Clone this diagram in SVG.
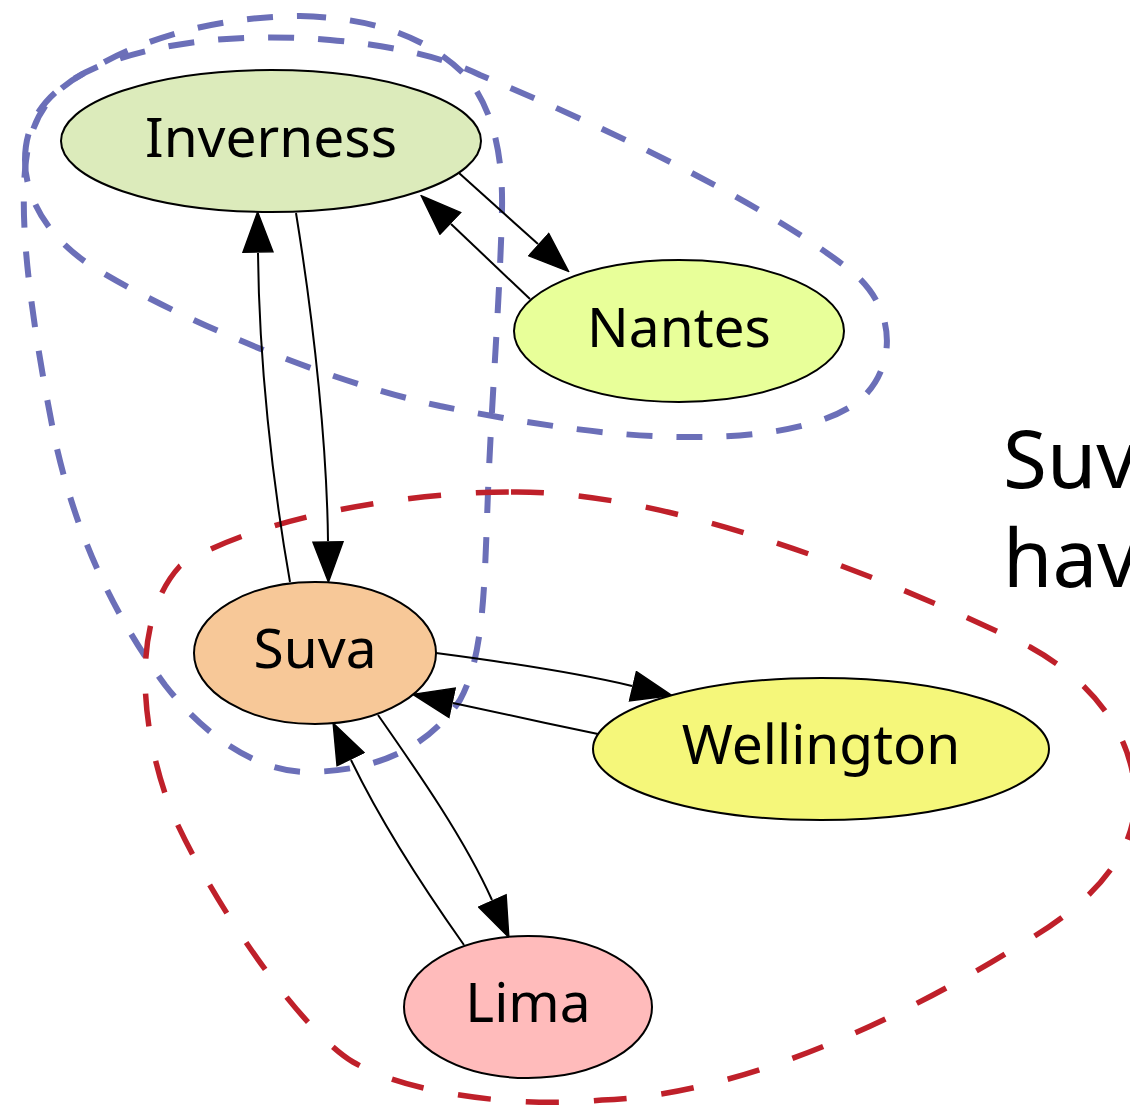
<svg xmlns="http://www.w3.org/2000/svg" width="1130" height="1111" viewBox="0 0 1130 1111">
  <style>
    .cluster { fill: none; stroke-linejoin: round; }
    .blue { stroke: #6b6fb8; stroke-width: 6; stroke-dasharray: 26 24; }
    .red { stroke: #bf202a; stroke-width: 5.5; stroke-dasharray: 33 35; }
    .edge { fill: none; stroke: #000; stroke-width: 2; }
    .node ellipse { stroke: #000; stroke-width: 2; }
    .node text { font-family: "Noto Sans", "Open Sans", sans-serif; font-size: 55px; text-anchor: middle; fill: #000; }
    .note { font-family: "Noto Sans", "Open Sans", sans-serif; font-size: 80px; fill: #000; }
  </style>
  <defs>
    <marker id="arrow" markerWidth="42" markerHeight="32" refX="0" refY="16" orient="auto" markerUnits="userSpaceOnUse">
      <path d="M1,1 L41,16 L1,31 Z" fill="#000" stroke="#000" stroke-width="1.5"/>
    </marker>
  </defs>

  <!-- cluster outlines -->
  <g id="clusters">
    <path id="cluster-inverness-nantes" class="cluster blue" d="M 25,160 C 25,110 60,80 110,62 C 170,40 250,33 330,40 C 400,46 450,60 480,75 C 600,125 760,200 850,270 C 900,310 895,370 860,400 C 820,432 740,438 680,437 C 600,436 510,420 440,406 C 320,380 170,315 90,265 C 45,235 25,195 25,160 Z"/>
    <path id="cluster-inverness-suva" class="cluster blue" d="M 300,16 C 380,18 430,40 465,75 C 495,110 503,160 502,210 C 500,300 490,420 487,520 C 484,600 482,660 460,700 C 430,745 380,772 305,772 C 250,770 200,730 165,685 C 110,610 75,530 55,440 C 35,340 22,250 24,190 C 25,130 40,95 90,70 C 150,35 220,17 300,16 Z"/>
    <path id="cluster-suva-wellington-lima" class="cluster red" d="M 511,492 C 650,490 850,560 1030,647 C 1090,680 1130,730 1135,790 C 1140,860 1080,910 1023,943 C 900,1020 740,1095 602,1100 C 520,1108 410,1095 353,1062 C 300,1030 210,900 171,810 C 140,730 130,620 180,566 C 250,520 400,492 511,492 Z"/>
  </g>

  <!-- connectors -->
  <g id="edges">
    <path class="edge" marker-end="url(#arrow)" d="M 296,213 C 315,330 327,450 328,541"/>
    <path class="edge" marker-end="url(#arrow)" d="M 290,582 C 272,480 259,360 258,253"/>
    <path class="edge" marker-end="url(#arrow)" d="M 459,173 L 538,244"/>
    <path class="edge" marker-end="url(#arrow)" d="M 530,299 L 451,224"/>
    <path class="edge" marker-end="url(#arrow)" d="M 436,653 C 520,664 590,676 632,686"/>
    <path class="edge" marker-end="url(#arrow)" d="M 598,734 C 550,724 490,711 453,703"/>
    <path class="edge" marker-end="url(#arrow)" d="M 378,715 C 420,775 465,840 492,900"/>
    <path class="edge" marker-end="url(#arrow)" d="M 464,945 C 425,890 380,820 351,760"/>
  </g>

  <!-- nodes -->
  <g id="node-inverness" class="node">
    <ellipse cx="271" cy="141" rx="210" ry="71" fill="#dcebbb"/>
    <text x="271" y="157">Inverness</text>
  </g>
  <g id="node-nantes" class="node">
    <ellipse cx="679" cy="331" rx="165" ry="71" fill="#e8ff99"/>
    <text x="679" y="347">Nantes</text>
  </g>
  <g id="node-suva" class="node">
    <ellipse cx="315" cy="653" rx="121" ry="71" fill="#f7c898"/>
    <text x="315" y="668">Suva</text>
  </g>
  <g id="node-wellington" class="node">
    <ellipse cx="821" cy="749" rx="228" ry="71" fill="#f5f77a"/>
    <text x="821" y="764">Wellington</text>
  </g>
  <g id="node-lima" class="node">
    <ellipse cx="528" cy="1007" rx="124" ry="71" fill="#ffbbbb"/>
    <text x="528" y="1022">Lima</text>
  </g>

  <!-- side note, running past the right edge -->
  <g id="note">
    <text class="note" x="1003" y="488">Suv</text>
    <text class="note" x="1003" y="587">hav</text>
  </g>
</svg>
